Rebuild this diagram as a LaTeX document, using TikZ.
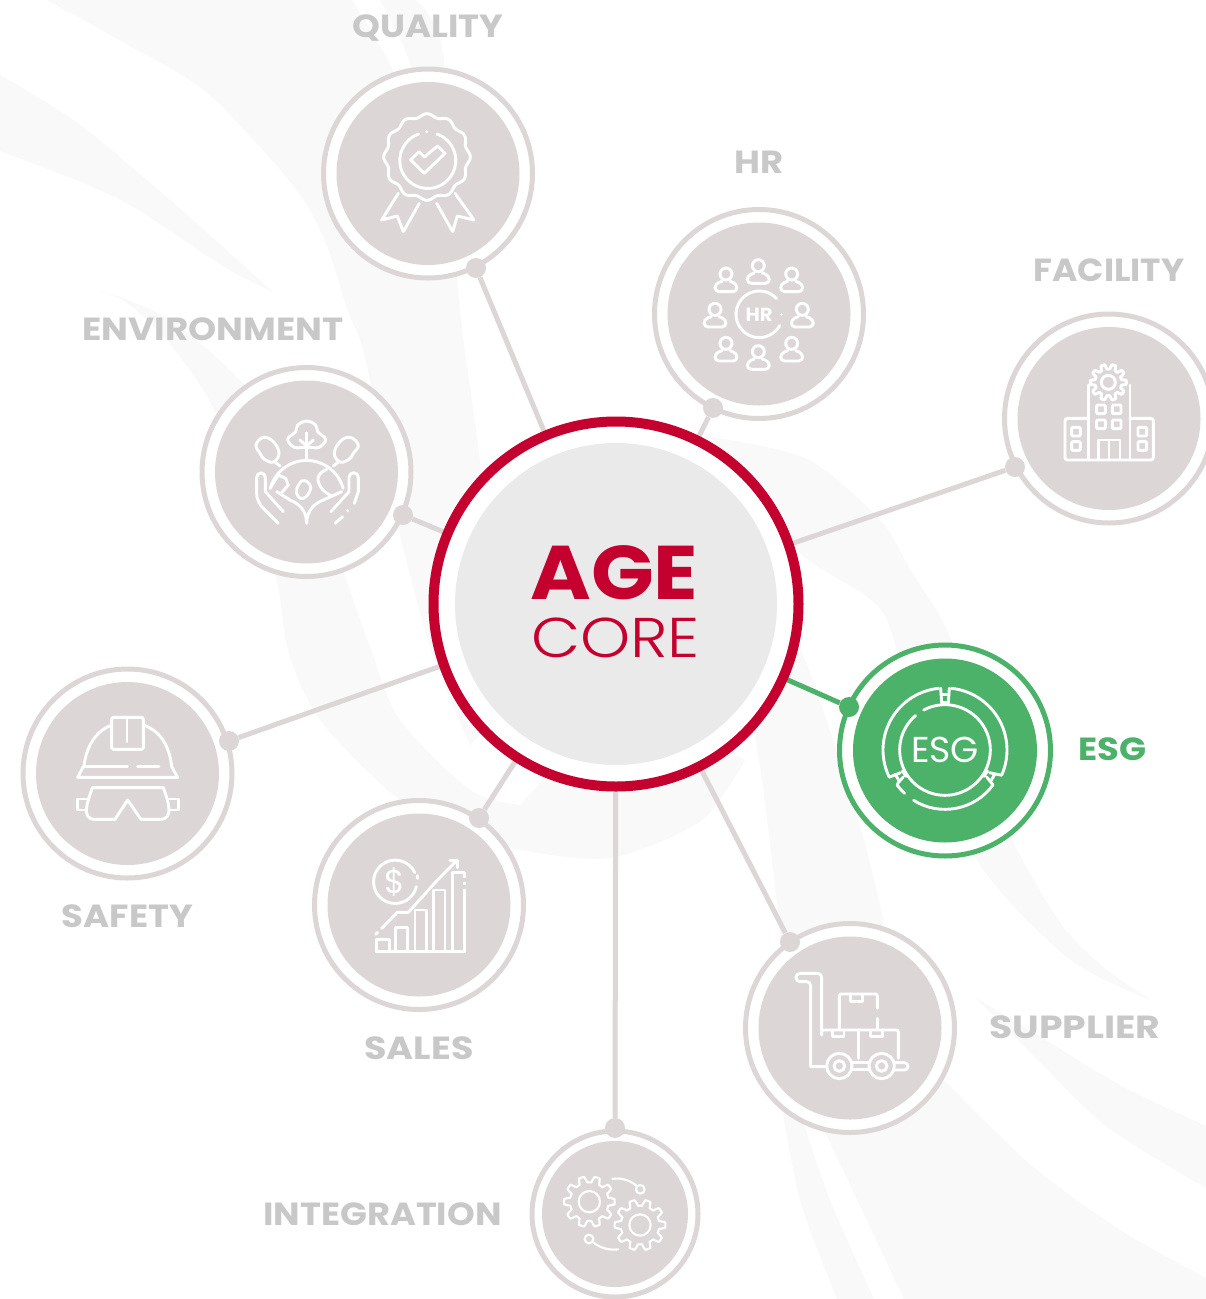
\documentclass[tikz,border=0pt]{standalone}
\usepackage{fontspec}
\usepackage{graphicx}
\setmainfont{Poppins}
\newfontfamily\poplight{Poppins Light}
\usetikzlibrary{backgrounds}
\pgfdeclarelayer{swoosh}
\pgfdeclarelayer{links}
\pgfsetlayers{swoosh,links,main}
\definecolor{swooshgray}{HTML}{F9F9F9}
\definecolor{satgray}{HTML}{DDD6D7}
\definecolor{labelgray}{HTML}{C8C8C8}
\definecolor{esggreen}{HTML}{4CB26A}
\definecolor{corered}{HTML}{C4002F}
\definecolor{coregray}{HTML}{EAEAEA}
\tikzset{
  ring/.style={circle,inner sep=0pt,draw=satgray,fill=white,line width=5pt,minimum size=209pt},
  disk/.style={circle,inner sep=0pt,fill=satgray,minimum size=183pt},
  smallring/.style={ring,minimum size=166pt},
  smalldisk/.style={disk,minimum size=146pt},
  dotnode/.style={circle,inner sep=0pt,fill=satgray,minimum size=20pt},
  link/.style={draw=satgray,line width=5pt,shorten >=-4pt},
  satlabel/.style={anchor=base,text=labelgray,font=\bfseries\fontsize{32}{32}\selectfont,inner sep=0pt},
  icon/.style={draw=white,line width=2.9pt,line cap=round,line join=round},
  thinicon/.style={icon,line width=2.1pt},
  band/.style={fill=swooshgray,draw=none},
  iconframe/.style={shift={(#1)},scale=0.33333}
}
\newcommand{\lbl}[2]{\resizebox{#1pt}{\height}{#2}}
\newcommand{\personicon}[2]{%
  \draw[icon] (#1,#2) circle (18);
  \draw[icon,rounded corners=4pt] ({#1-12},{#2+22}) -- ({#1-33},{#2+30}) -- ({#1-33},{#2+53}) -- ({#1+33},{#2+53}) -- ({#1+33},{#2+30}) -- ({#1+12},{#2+22});
}
\newcommand{\gearicon}[5]{%
  \draw[#5] plot[domain=0:360,samples=121] ({#1+(#4+(#3-#4)*max(0,min(1,.5+2*cos(10*\x))))*cos(\x)},{#2+(#4+(#3-#4)*max(0,min(1,.5+2*cos(10*\x))))*sin(\x)}) -- cycle;
}
\begin{document}
\begin{tikzpicture}[x=1pt,y=-1pt]
\useasboundingbox (0,0) rectangle (1206,1299);
\begin{pgfonlayer}{swoosh}
\fill[white] (0,0) rectangle (1206,1299);
% left main band
\fill[band] plot[smooth] coordinates {(47,0) (130,46) (205,91) (277,166) (308,207) (328,249) (348,311) (364,353) (389,477) (399,531) (431,650) (470,745)} -- (620,604) -- plot[smooth] coordinates {(482,477) (474,415) (458,290) (443,54) (415,0)} -- cycle;
\fill[white] plot[smooth] coordinates {(352,0) (395,75) (432,190)} -- plot[smooth] coordinates {(432,190) (412,70) (380,0)} -- cycle;
% upper left tapering band
\fill[band] plot[smooth] coordinates {(0,75) (79,124) (178,207) (273,292)} -- plot[smooth] coordinates {(273,292) (221,265) (119,199) (0,151)} -- cycle;
% environment band running under the core
\fill[band] plot[smooth] coordinates {(100,290) (170,320) (245,386) (300,470) (340,564) (371,650) (400,720) (470,790) (520,805)} -- (616,700) -- plot[smooth] coordinates {(745,760) (702,820) (620,856) (560,856) (480,840) (400,800) (320,720) (288,650) (277,581) (250,500) (213,407) (170,344) (130,305) (100,290)} -- cycle;
% right band behind ESG
\fill[band] plot[smooth] coordinates {(710,437) (807,459) (880,520) (911,571) (953,644) (1000,800) (1012,840) (1061,924) (1106,969) (1151,1000)} -- plot[smooth] coordinates {(1151,1000) (1068,958) (975,857) (910,700) (881,610) (796,549) (710,437)} -- cycle;
% vertical band below the core
\fill[band] plot[smooth] coordinates {(745,680) (762,780) (779,924) (781,1000)} -- (870,1000) -- plot[smooth] coordinates {(883,919) (859,823) (803,655) (760,600)} -- cycle;
\fill[band] plot[smooth] coordinates {(781,1100) (800,1200) (837,1299)} -- plot[smooth] coordinates {(874,1299) (830,1200) (796,1100)} -- cycle;
% lower right bands
\fill[band] plot[smooth] coordinates {(975,997) (1031,1031) (1120,1085) (1206,1126)} -- (1206,1188) -- plot[smooth] coordinates {(1206,1188) (1106,1126) (1031,1053) (975,997)} -- cycle;
\fill[band] plot[smooth] coordinates {(945,1081) (1031,1165) (1120,1230) (1206,1278)} -- (1206,1299) -- (904,1299) -- (825,1132) -- cycle;
\end{pgfonlayer}

% core
\node[circle,inner sep=0pt,draw=corered,line width=10pt,fill=white,minimum size=365pt] (core) at (616,604) {};
\node[circle,inner sep=0pt,fill=coregray,minimum size=322pt] (coredisk) at (616,604) {};
\node[anchor=base,inner sep=0pt,text=corered,font=\bfseries\fontsize{76}{76}\selectfont] (age) at (614.5,599) {\lbl{168}{AGE}};
\node[anchor=base,inner sep=0pt,text=corered,font=\poplight\fontsize{56}{56}\selectfont] (coretext) at (615.5,657) {\lbl{169}{CORE}};

% satellites
\node[ring] (quality) at (428,173.5) {};      \node[disk] (qualityd) at (428,173.5) {};
\node[ring] (hr) at (759,314) {};             \node[disk] (hrd) at (759,314) {};
\node[ring] (facility) at (1109,418.5) {};    \node[disk] (facilityd) at (1109,418.5) {};
\node[ring] (environment) at (306.5,472) {};  \node[disk] (environmentd) at (306.5,472) {};
\node[ring] (safety) at (127.5,773.5) {};     \node[disk] (safetyd) at (127.5,773.5) {};
\node[ring] (sales) at (419,905) {};          \node[disk] (salesd) at (419,905) {};
\node[ring] (supplier) at (850,1028) {};      \node[disk] (supplierd) at (850,1028) {};
\node[smallring] (integration) at (615,1214) {}; \node[smalldisk] (integrationd) at (615,1214) {};
\node[ring,draw=esggreen,minimum size=211pt] (esg) at (945,750.5) {};
\node[disk,fill=esggreen,minimum size=184pt] (esgd) at (945,750.5) {};

% dots
\node[dotnode] (dq) at (476,268) {};
\node[dotnode] (dh) at (713,408) {};
\node[dotnode] (df) at (1015,467) {};
\node[dotnode] (de) at (403,515) {};
\node[dotnode] (ds) at (229,741) {};
\node[dotnode] (dl) at (479,818) {};
\node[dotnode] (du) at (790,942) {};
\node[dotnode] (di) at (615,1128) {};
\node[dotnode,fill=esggreen] (dg) at (849,707) {};

% connectors
\begin{pgfonlayer}{links}
\draw[link] (dq) -- (core);
\draw[link] (dh) -- (core);
\draw[link] (df) -- (core);
\draw[link] (de) -- (core);
\draw[link] (ds) -- (core);
\draw[link] (dl) -- (core);
\draw[link] (du) -- (core);
\draw[link] (di) -- (core);
\draw[link,draw=esggreen] (dg) -- (core);
\end{pgfonlayer}

% labels
\node[satlabel] (lq) at (428,37) {\lbl{151}{QUALITY}};
\node[satlabel] (lh) at (759,173.5) {\lbl{49}{HR}};
\node[satlabel] (lf) at (1109,281.5) {\lbl{151}{FACILITY}};
\node[satlabel] (le) at (213,340) {\lbl{261}{ENVIRONMENT}};
\node[satlabel] (ls) at (127.5,927.5) {\lbl{131}{SAFETY}};
\node[satlabel] (ll) at (419,1059.5) {\lbl{109}{SALES}};
\node[satlabel] (lu) at (1075,1038.5) {\lbl{171}{SUPPLIER}};
\node[satlabel] (li) at (382.5,1225.5) {\lbl{238}{INTEGRATION}};
\node[satlabel,text=esggreen] (lg) at (1112.5,760) {\lbl{68}{ESG}};

% QUALITY icon
\begin{scope}[iconframe={320,60}]
\draw[icon] plot[domain=0:360,samples=145] ({321+(125+5*cos(12*\x))*cos(\x)},{291+(125+5*cos(12*\x))*sin(\x)}) -- cycle;
\draw[icon] (296,222) arc[start angle=-109,end angle=-431,radius=84];
\fill[white] (320,215) circle (5);
\draw[icon] (272,300) -- (297,275) -- (313,291) -- (353,258) -- (375,280) -- (313,340) -- cycle;
\draw[icon] (235,400) -- (185,480) -- (232,468) -- (250,515) -- (298,430);
\draw[icon] (405,400) -- (462,480) -- (412,468) -- (398,515) -- (350,430);
\end{scope}

% HR icon
\begin{scope}[iconframe={650,200}]
\personicon{325}{197}
\personicon{228}{222}
\personicon{425}{222}
\personicon{195}{328}
\personicon{457}{328}
\personicon{228}{430}
\personicon{425}{430}
\personicon{325}{455}
\draw[icon] (380,296) arc[start angle=-42,end angle=-331,radius=70];
\fill[white] (395,343) circle (4);
\node[inner sep=0pt,text=white,font=\bfseries\fontsize{19}{19}\selectfont] (hricon) at (327,343) {\lbl{27}{HR}};
\end{scope}

% FACILITY icon
\begin{scope}[iconframe={1000,310}]
\gearicon{325}{217}{54}{40}{icon}
\draw[icon] (325,217) circle (21);
\draw[icon] (265,225) -- (265,450);
\draw[icon] (390,225) -- (390,450);
\draw[icon,rounded corners=2.5pt] (265,325) -- (195,325) -- (195,450) -- (460,450) -- (460,325) -- (390,325);
\foreach \a/\b in {303/298,350/298,303/343,350/343,228/365,228/408,427/365,427/408}
  \draw[icon,rounded corners=1pt] ({\a-13},{\b-13}) rectangle ({\a+13},{\b+13});
\draw[icon] (295,450) -- (295,390) -- (360,390) -- (360,450);
\draw[icon] (327,390) -- (327,450);
\end{scope}

% ENVIRONMENT icon
\begin{scope}[iconframe={195,360}]
\draw[icon] plot[smooth cycle,tension=.7] coordinates {(335,183) (362,195) (368,215) (392,238) (372,262) (350,262) (320,262) (298,262) (278,238) (302,215) (308,195)};
\draw[icon] (335,218) -- (335,295);
\draw[icon] (315,240) -- (335,258) -- (355,240);
\draw[icon] plot[smooth cycle,tension=.7] coordinates {(183,255) (205,232) (235,245) (252,280) (235,306) (208,298) (195,280)};
\draw[icon] plot[smooth cycle,tension=.7] coordinates {(490,255) (465,232) (435,245) (418,280) (435,306) (462,298) (475,280)};
\draw[icon] (238,305) -- (255,318);
\draw[icon] (432,305) -- (415,318);
\draw[icon] (226,385) arc[start angle=-165,end angle=-15,radius=113];
\draw[icon] (250,490) -- (200,440) .. controls (190,425) and (185,415) .. (185,400) -- (185,352) arc[start angle=180,end angle=360,radius=13] -- (211,395) -- (265,455);
\draw[icon] (490,395) -- (490,352) arc[start angle=0,end angle=-180,radius=14] -- (462,395) -- (408,455);
\draw[icon] (490,395) -- (478,430);
\draw[icon] (420,490) -- (443,470);
\fill[white] (458,452) circle (5);
\draw[icon] (335,490) .. controls (335,450) and (310,430) .. (285,420) -- (245,395);
\draw[icon] (335,490) .. controls (335,450) and (360,430) .. (385,420) -- (440,395);
\draw[icon] (225,385) -- (250,345) -- (272,355) -- (280,375) -- (260,398);
\draw[icon] plot[smooth cycle,tension=.8] coordinates {(330,362) (347,385) (325,415) (305,400) (312,372)};
\draw[icon] plot[smooth,tension=.8] coordinates {(395,328) (370,350) (380,385) (410,408)};
\end{scope}

% SAFETY icon
\begin{scope}[iconframe={15,660}]
\draw[icon] (207,318) .. controls (215,250) and (250,210) .. (290,195);
\draw[icon] (385,195) .. controls (430,210) and (462,250) .. (470,318);
\draw[icon,rounded corners=1.5pt] (290,172) rectangle (385,268);
\draw[icon] (336,175) -- (336,245);
\draw[icon] (205,320) -- (188,352) -- (488,352) -- (470,320);
\draw[icon] (205,320) -- (338,320);
\draw[icon] (368,320) -- (432,320);
\draw[icon] (232,383) -- (445,383) .. controls (458,420) and (480,478) .. (435,478) -- (378,478) -- (338,420) -- (300,478) -- (240,478) .. controls (195,478) and (220,420) .. (232,383);
\draw[icon] (215,417) -- (187,417) -- (187,450) -- (215,450);
\draw[icon] (463,417) -- (490,417) -- (490,450) -- (463,450);
\end{scope}

% SALES icon
\begin{scope}[iconframe={310,795}]
\draw[icon] (319,275) arc[start angle=13,end angle=335,radius=65];
\draw[icon] (322,242) -- (323,250);
\node[inner sep=0pt,text=white,font=\fontsize{33}{33}\selectfont] (dollar) at (255,260) {\$};
\draw[icon,line cap=butt] (195,470) -- (467,470);
\draw[icon,line cap=butt] (200,470) -- (200,433) -- (238,433) -- (238,470);
\draw[icon,line cap=butt] (257,470) -- (257,397) -- (292,397) -- (292,470);
\draw[icon,line cap=butt] (315,470) -- (315,345) -- (350,345) -- (350,470);
\draw[icon,line cap=butt] (370,470) -- (370,285) -- (405,285) -- (405,470);
\draw[icon,line cap=butt] (428,470) -- (428,232) -- (463,232) -- (463,250);
\draw[icon,line cap=butt] (463,262) -- (463,270);
\draw[icon,line cap=butt] (463,282) -- (463,470);
\draw[icon] (197,418) -- (203,412);
\draw[icon] (215,400) -- (262,352) -- (295,352) -- (378,260) -- (440,197);
\draw[icon] (420,197) -- (442,197) -- (442,218);
\end{scope}

% SUPPLIER icon
\begin{scope}[iconframe={740,920}]
\draw[icon] (245,330) -- (245,172) arc[start angle=0,end angle=-90,radius=12] -- (180,160) arc[start angle=-90,end angle=-270,radius=12.5] -- (200,185) arc[start angle=-90,end angle=0,radius=12] -- (212,440) -- (258,440);
\draw[icon,rounded corners=2pt] (245,345) -- (245,330) -- (475,330) -- (475,415);
\draw[icon] (355,330) -- (355,415);
\draw[icon] (278,330) -- (278,350) -- (312,350) -- (312,330);
\draw[icon] (392,330) -- (392,350) -- (428,350) -- (428,330);
\draw[icon,rounded corners=2pt] (298,325) -- (298,222) -- (412,222) -- (412,265);
\draw[icon] (412,295) -- (412,325);
\draw[icon] (332,222) -- (332,245) -- (367,245) -- (367,222);
\draw[icon] (298,438) circle (38);
\draw[icon] (298,438) circle (16);
\draw[icon] (425,438) circle (38);
\draw[icon] (425,438) circle (16);
\draw[icon] (338,428) -- (385,428);
\draw[icon] (338,448) -- (385,448);
\draw[icon] (463,428) -- (493,428) arc[start angle=-90,end angle=90,radius=11] -- (463,450);
\end{scope}

% INTEGRATION icon
\begin{scope}[iconframe={525,1120}]
\gearicon{193}{245}{76}{58}{thinicon}
\draw[thinicon] (193,245) circle (32);
\gearicon{345}{315}{76}{58}{thinicon}
\draw[thinicon] (345,315) circle (32);
\draw[thinicon] (262,177) .. controls (290,172) and (318,182) .. (335,198);
\draw[thinicon] (346,208) circle (13);
\draw[thinicon] (280,388) .. controls (250,392) and (222,382) .. (204,366);
\draw[thinicon] (192,357) circle (13);
\end{scope}

% ESG icon
\begin{scope}[iconframe={780,640}]
\begin{scope}[shift={(495,330)}]
\draw[icon] (-118:136) arc[start angle=-118,end angle=229.5,radius=136];
\draw[icon] (-84:186) arc[start angle=-84,end angle=24,radius=186] -- (27:150);
\draw[icon] (-96:186) arc[start angle=-96,end angle=-206,radius=186] -- (153:150);
\draw[icon] (36:178) arc[start angle=36,end angle=122,radius=178];
\draw[icon] (133:178) arc[start angle=133,end angle=143.5,radius=178] -- (145:172) -- (147:150);
\draw[icon] (36:178) -- (33:150);
\foreach \a in {-90,30,150} {
  \draw[icon] (\a-4:142) -- (\a+4:142);
  \draw[icon] (\a-4:166) -- (\a+4:166);
}
\draw[icon] (-94:142) -- (-94:186);
\draw[icon] (-86:142) -- (-86:186);
\end{scope}
\node[inner sep=0pt,text=white,font=\fontsize{36}{36}\selectfont] (esgicon) at (495,330) {\lbl{68}{ESG}};
\end{scope}
\end{tikzpicture}
\end{document}
